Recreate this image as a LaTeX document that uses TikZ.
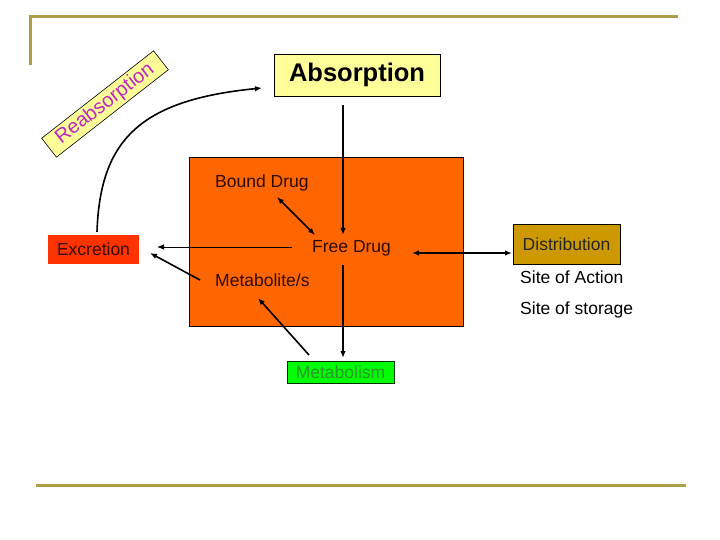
\documentclass[tikz,border=0pt]{standalone}
\usepackage{fontspec}
\setmainfont{Liberation Sans}
\usetikzlibrary{arrows.meta}
\definecolor{gold}{RGB}{172,158,72}
\definecolor{paleyellow}{RGB}{255,255,153}
\definecolor{orangebg}{RGB}{255,102,0}
\definecolor{excred}{RGB}{255,51,0}
\definecolor{distgold}{RGB}{204,153,0}
\definecolor{metgreen}{RGB}{0,255,0}
\definecolor{metgreentext}{RGB}{40,150,40}
\definecolor{darkred}{RGB}{45,10,0}
\definecolor{reabmag}{RGB}{190,40,190}
\tikzset{
  txt/.style={font=\fontsize{17.5}{20}\selectfont, inner sep=0pt},
  boxnode/.style={txt, draw=black, line width=0.8pt},
  arr/.style={line width=1.6pt, -{Latex[length=7pt,width=5.5pt]}},
  darr/.style={line width=1.6pt, {Latex[length=7pt,width=5.5pt]}-{Latex[length=7pt,width=5.5pt]}},
  frame/.style={draw=gold, line width=3pt}
}
\begin{document}
\begin{tikzpicture}[x=1pt,y=-1pt]
\fill[white] (0,0) rectangle (720,540);
\useasboundingbox (0,0) rectangle (720,540);
% frame lines
\coordinate (f1) at (30,65);
\coordinate (f2) at (30,17);
\coordinate (f3) at (678,17);
\coordinate (f4) at (36,485);
\coordinate (f5) at (686,485);
\draw[frame] (f1) -- (f2) -- (f3);
\draw[frame] (f4) -- (f5);
% central pool
\node[draw=black, line width=0.6pt, fill=orangebg, minimum width=274pt, minimum height=169pt, inner sep=0pt] (pool) at (326,241.5) {};
\node[boxnode, fill=paleyellow, minimum width=166pt, minimum height=42pt, font=\fontsize{25.5}{28}\selectfont\bfseries] (abs) at (357,75) {Absorption};
\node[txt, text=darkred, anchor=west] (bound) at (215,183) {Bound Drug};
\node[txt, text=darkred, anchor=west] (free) at (312,248) {Free Drug};
\node[txt, text=darkred, anchor=west] (metab) at (215,280) {Metabolite/s};
\node[txt, fill=excred, text=darkred, minimum width=91pt, minimum height=29pt] (excr) at (93.5,249.5) {Excretion};
\node[boxnode, draw=black!80!green, fill=metgreen, text=metgreentext, minimum width=107pt, minimum height=22pt] (metabolism) at (340.5,372) {Metabolism};
\node[boxnode, fill=distgold, text=black!85, minimum width=107pt, minimum height=40pt] (dist) at (566.5,244) {Distribution};
\node[txt, anchor=west] (site1) at (520,277) {Site of Action};
\node[txt, anchor=west] (site2) at (520,310) {Site of storage};
\node[boxnode, line width=0.6pt, fill=paleyellow, text=reabmag, minimum width=142pt, minimum height=24pt, rotate=38, font=\fontsize{20}{22}\selectfont] (reab) at (105,104) {Reabsorption};
% connector end points
\coordinate (absout) at (343,105);
\coordinate (freetop) at (343,235);
\coordinate (boundend) at (277,197);
\coordinate (freeul) at (315,235);
\coordinate (freeleft) at (292,247);
\coordinate (excrright) at (157,247);
\coordinate (metableft) at (200,280);
\coordinate (excrlow) at (150,253);
\coordinate (metabtop) at (309,355);
\coordinate (metablow) at (258,298);
\coordinate (freebot) at (343,265);
\coordinate (metabolismtop) at (343,358);
\coordinate (freeright) at (412,253);
\coordinate (distleft) at (512,253);
\coordinate (excrtop) at (97,232);
\coordinate (absleft) at (262,88);
% connectors
\draw[arr] (absout) -- (freetop);
\draw[darr] (boundend) -- (freeul);
\draw[line width=0.8pt, -{Latex[length=7pt,width=5.5pt]}] (freeleft) -- (excrright);
\draw[arr] (metableft) -- (excrlow);
\draw[arr] (metabtop) -- (metablow);
\draw[arr] (freebot) -- (metabolismtop);
\draw[darr] (freeright) -- (distleft);
\draw[arr] (excrtop) .. controls (100,140) and (140,100) .. (absleft);
\end{tikzpicture}
\end{document}
